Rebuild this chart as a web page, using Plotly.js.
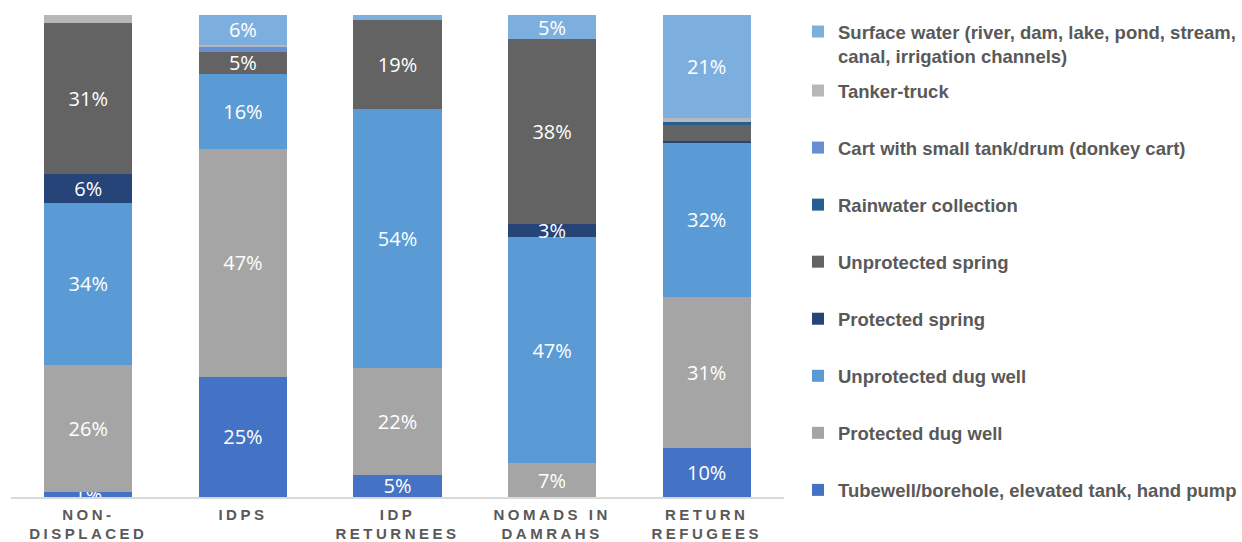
<!DOCTYPE html>
<html>
<head>
<meta charset="utf-8">
<script src="https://cdn.plot.ly/plotly-3.0.1.min.js"></script>
<style>
html, body { margin: 0; padding: 0; background: #fff; }
#chart { width: 1242px; height: 542px; }
.xtick text { letter-spacing: 3.5px; }
</style>
</head>
<body>
<div id="chart"></div>
<script>
// Categories and tick labels
const categories = ["Non-displaced", "IDPs", "IDP returnees", "Nomads in Damrahs", "Return refugees"];
const tickLabels = ["NON-<br>DISPLACED", "IDPS", "IDP<br>RETURNEES", "NOMADS IN<br>DAMRAHS", "RETURN<br>REFUGEES"];

// Series values (% of households), bottom to top of each stack
const tubewell          = [1.0, 24.9, 4.6, 0, 10.2];
const protectedDugWell  = [26.3, 47.3, 22.2, 7.0, 31.3];
const unprotectedDugWell= [33.8, 15.6, 53.6, 46.9, 32.0];
const protectedSpring   = [6.0, 0, 0, 2.7, 0.4];
const unprotectedSpring = [31.3, 4.6, 18.6, 38.4, 3.3];
const rainwater         = [0, 0, 0, 0, 0.7];
const cart              = [0, 1.0, 0, 0, 0];
const tanker            = [1.6, 0.4, 0, 0, 0.8];
const surfaceWater      = [0, 6.2, 1.0, 5.0, 21.4];

const seriesNames = [
  "Tubewell/borehole, elevated tank, hand pump",
  "Protected dug well",
  "Unprotected dug well",
  "Protected spring",
  "Unprotected spring",
  "Rainwater collection",
  "Cart with small tank/drum (donkey cart)",
  "Tanker-truck",
  "Surface water (river, dam, lake, pond, stream,<br>canal, irrigation channels)"
];
const seriesValues = [tubewell, protectedDugWell, unprotectedDugWell, protectedSpring,
  unprotectedSpring, rainwater, cart, tanker, surfaceWater];
const seriesColors = ["#4472C4", "#A5A5A5", "#5B9BD5", "#264478", "#636363",
  "#255E91", "#698ED0", "#B7B7B7", "#7DAFDE"];
// smallest value that gets a data label in each series
const minLabel = [0.5, 2.5, 2.5, 2.5, 4, 100, 100, 100, 2.5];

const traces = seriesValues.map((vals, i) => ({
  type: "bar",
  name: seriesNames[i],
  x: categories,
  y: vals,
  marker: { color: seriesColors[i], line: { width: 0 } },
  text: vals.map(v => (v > 0 && v >= minLabel[i]) ? Math.round(v) + "%" : ""),
  textposition: "inside",
  insidetextanchor: "middle",
  textangle: 0,
  constraintext: "none",
  cliponaxis: true,
  textfont: { family: "Open Sans, sans-serif", size: 20, color: "#FFFFFF" },
  hoverinfo: "name+y",
  legendgroup: "g" + i,
  legendrank: 100 - i,
  legend: i === seriesValues.length - 1 ? "legend2" : "legend"
}));

const legendFont = { family: "Liberation Sans, Arial, sans-serif", size: 18.5, color: "#595959", weight: 700 };

const layout = {
  width: 1242,
  height: 542,
  margin: { l: 11, r: 458, t: 15, b: 45 },
  paper_bgcolor: "#FFFFFF",
  plot_bgcolor: "#FFFFFF",
  barmode: "stack",
  bargap: 0.43,
  showlegend: true,
  xaxis: {
    type: "category",
    tickvals: categories,
    ticktext: tickLabels,
    showline: true,
    linecolor: "#D9D9D9",
    linewidth: 1.5,
    ticks: "",
    ticklabelstandoff: 3,
    showgrid: false,
    zeroline: false,
    tickfont: { family: "Liberation Sans, Arial, sans-serif", size: 15, color: "#595959", weight: 700 },
    fixedrange: true
  },
  yaxis: {
    range: [0, 100],
    visible: false,
    showgrid: false,
    zeroline: false,
    fixedrange: true
  },
  legend: {
    xref: "container", yref: "container",
    x: 798 / 1242, y: 1 - 72 / 542,
    xanchor: "left", yanchor: "top",
    traceorder: "grouped",
    tracegroupgap: 30,
    maxheight: 1,
    bgcolor: "rgba(0,0,0,0)",
    font: legendFont,
    itemclick: false, itemdoubleclick: false
  },
  legend2: {
    xref: "container", yref: "container",
    x: 798 / 1242, y: 1 - 13 / 542,
    xanchor: "left", yanchor: "top",
    valign: "top",
    bgcolor: "rgba(0,0,0,0)",
    font: legendFont,
    itemclick: false, itemdoubleclick: false
  }
};

Plotly.newPlot("chart", traces, layout, { displayModeBar: false });
</script>
</body>
</html>
